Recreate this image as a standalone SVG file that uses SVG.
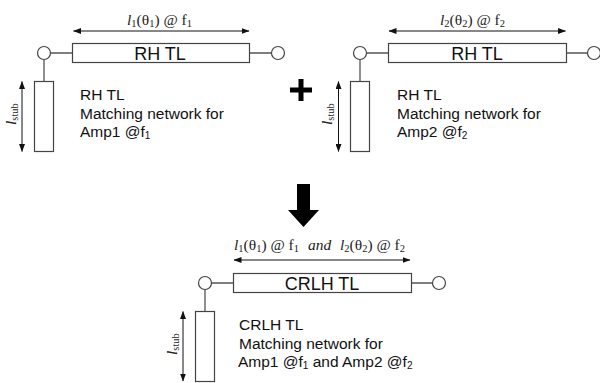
<svg xmlns="http://www.w3.org/2000/svg" width="600" height="383" viewBox="0 0 600 383">
<style>
.w{stroke:#555;stroke-width:1.3;fill:none}
.b{fill:#fff;stroke:#444;stroke-width:1.2}
.d{stroke:#111;stroke-width:1;fill:none;marker-start:url(#a);marker-end:url(#a)}
.t{font-family:"Liberation Sans",Arial,sans-serif;font-size:15.500px;fill:#111}
.n{font-family:"Liberation Sans",Arial,sans-serif;font-size:18px;fill:#111;text-anchor:middle}
.m{font-family:"Liberation Serif","Times New Roman",serif;font-size:15.500px;fill:#222}
.m tspan.s{font-size:10.500px}
.i{font-style:italic}
</style>
<defs>
<marker id="a" viewBox="0 0 8 6" refX="7.500" refY="3" markerWidth="8" markerHeight="6" markerUnits="userSpaceOnUse" orient="auto-start-reverse"><path d="M0 0L8 3L0 6Z" fill="#111"/></marker>
</defs>
<g id="connectors">
<path class="w" d="M50.500 53H72.500M249 53H271.500M44 59.500V81"/>
<path class="w" d="M366.500 53H388.500M566 53H587.500M360 59.500V81"/>
<path class="w" d="M211.500 283H233.500M411 283H432.500M205 289.500V311"/>
<path class="d" d="M73.500 31H249"/>
<path class="d" d="M389 31H565.500"/>
<path class="d" d="M234 260H410"/>
<path class="d" d="M22 81.500V151.500"/>
<path class="d" d="M338.500 81.500V151.500"/>
<path class="d" d="M183 311.500V381"/>
</g>
<g id="tl1">
<circle class="b" cx="44" cy="53" r="6.500"/><circle class="b" cx="278" cy="53" r="6.500"/>
<rect class="b" x="72.500" y="43.500" width="177" height="19"/>
<text class="n" x="160" y="59.500">RH TL</text>
<rect class="b" x="34.500" y="81.500" width="19" height="70"/>
<text class="m" x="127" y="25"><tspan class="i">l</tspan><tspan class="s" dy="2">1</tspan><tspan dy="-2">(θ</tspan><tspan class="s" dy="2">1</tspan><tspan dy="-2">) @ f</tspan><tspan class="s" dy="2">1</tspan></text>
<text class="m" transform="translate(16,125) rotate(-90)"><tspan class="i">l</tspan><tspan class="s" dy="2">stub</tspan></text>
<text class="t" x="80" y="100">RH TL</text><text class="t" x="80" y="119">Matching network for</text>
<text class="t" x="80" y="137">Amp1 @f<tspan font-size="10" dy="2">1</tspan></text>
</g>
<g id="tl2">
<circle class="b" cx="360" cy="53" r="6.500"/><circle class="b" cx="594" cy="53" r="6.500"/>
<rect class="b" x="388.500" y="43.500" width="178" height="19"/>
<text class="n" x="477" y="59.500">RH TL</text>
<rect class="b" x="350.500" y="81.500" width="19" height="70"/>
<text class="m" x="440" y="25"><tspan class="i">l</tspan><tspan class="s" dy="2">2</tspan><tspan dy="-2">(θ</tspan><tspan class="s" dy="2">2</tspan><tspan dy="-2">) @ f</tspan><tspan class="s" dy="2">2</tspan></text>
<text class="m" transform="translate(332,125) rotate(-90)"><tspan class="i">l</tspan><tspan class="s" dy="2">stub</tspan></text>
<text class="t" x="397" y="100">RH TL</text><text class="t" x="397" y="119">Matching network for</text>
<text class="t" x="397" y="137">Amp2 @f<tspan font-size="10" dy="2">2</tspan></text>
</g>
<g id="plus"><path d="M290 87.500H312V92.500H290ZM298.500 79H303.500V101H298.500Z" fill="#000"/></g>
<g id="down-arrow"><path d="M297 184H310V210H319L303.500 227L288 210H297Z" fill="#000"/></g>
<g id="crlh">
<circle class="b" cx="205" cy="283" r="6.500"/><circle class="b" cx="439" cy="283" r="6.500"/>
<rect class="b" x="233.500" y="273.500" width="178" height="19"/>
<text class="n" x="322" y="289.500">CRLH TL</text>
<rect class="b" x="195.500" y="311.500" width="19" height="70"/>
<text class="m" x="234" y="250"><tspan class="i">l</tspan><tspan class="s" dy="2">1</tspan><tspan dy="-2">(θ</tspan><tspan class="s" dy="2">1</tspan><tspan dy="-2">) @ f</tspan><tspan class="s" dy="2">1</tspan><tspan class="i" dy="-2" x="308">and</tspan><tspan class="i" x="340">l</tspan><tspan class="s" dy="2">2</tspan><tspan dy="-2">(θ</tspan><tspan class="s" dy="2">2</tspan><tspan dy="-2">) @ f</tspan><tspan class="s" dy="2">2</tspan></text>
<text class="m" transform="translate(177,355) rotate(-90)"><tspan class="i">l</tspan><tspan class="s" dy="2">stub</tspan></text>
<text class="t" x="239" y="330">CRLH TL</text><text class="t" x="239" y="349">Matching network for</text>
<text class="t" x="238" y="367">Amp1 @f<tspan font-size="10" dy="2">1</tspan><tspan dy="-2"> and Amp2 @f</tspan><tspan font-size="10" dy="2">2</tspan></text>
</g>
</svg>
